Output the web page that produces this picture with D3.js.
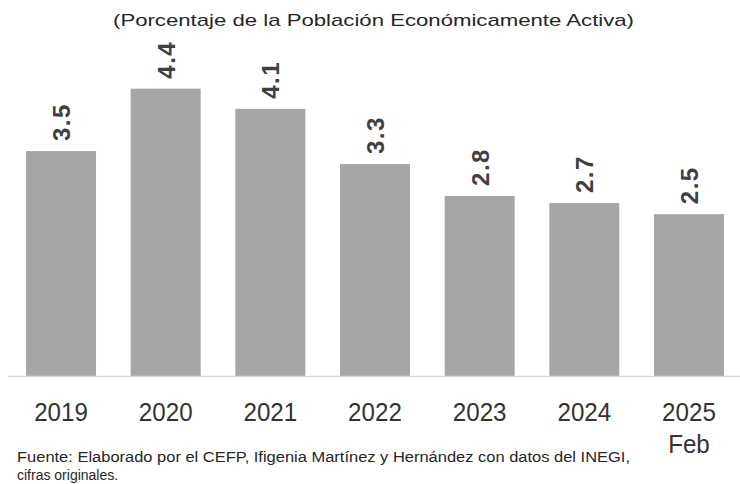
<!DOCTYPE html>
<meta charset="utf-8">
<style>
body{
    margin: 0;
    background: #fff;
}
svg text{
    font-family: "Liberation Sans", Arial, sans-serif;
}
</style>
<body>
    <div class="wrap"></div>
    <script src="https://d3js.org/d3.v7.min.js"></script>
    <script>
        // datos
        const years = ["2019", "2020", "2021", "2022", "2023", "2024", "2025"];
        const tickLabels = [["2019"], ["2020"], ["2021"], ["2022"], ["2023"], ["2024"], ["2025", "Feb"]];
        const tasa = [3.46, 4.42, 4.11, 3.26, 2.77, 2.66, 2.49];
        const titulo = "(Porcentaje de la Población Económicamente Activa)";
        const fuente = ["Fuente: Elaborado por el CEFP, Ifigenia Martínez y Hernández con datos del INEGI,",
                        "cifras originales."];

        let width = 740;
        let height = 484;
        const baseY = 376;

        const svg = d3.select(".wrap")
                    .append("svg")
                    .attr("width", width)
                    .attr("height", height);

        const x = d3.scaleBand()
                    .domain(years)
                    .range([8.7, 741.3])
                    .paddingInner(0.331)
                    .paddingOuter(0.1655);

        const y = d3.scaleLinear()
                    .domain([0, 5])
                    .range([baseY, baseY - 5 * 65]);

        // titulo
        svg.append("text")
            .attr("x", 113)
            .attr("y", 26)
            .attr("textLength", 521)
            .attr("lengthAdjust", "spacingAndGlyphs")
            .style("font-size", "17px")
            .style("fill", "#262626")
            .text(titulo);

        const data = years.map((d, i) => ({year: d, v: tasa[i]}));

        svg.append("g")
            .selectAll("rect")
            .data(data)
            .join("rect")
            .attr("x", d => x(d.year))
            .attr("y", d => y(d.v))
            .attr("width", x.bandwidth())
            .attr("height", d => y(0) - y(d.v))
            .style("fill", "#a6a6a6");

        // etiquetas de valor, giradas
        svg.append("g")
            .selectAll("text")
            .data(data)
            .join("text")
            .attr("transform", d => `translate(${x(d.year) + x.bandwidth() / 2 + 9},${y(d.v) - 10}) rotate(-90)`)
            .style("font-size", "24px")
            .style("font-weight", "bold")
            .style("letter-spacing", "1.5px")
            .style("fill", "#404040")
            .text(d => d3.format(".1f")(d.v));

        // eje x
        svg.append("line")
            .attr("x1", 8)
            .attr("x2", 740)
            .attr("y1", baseY + 0.5)
            .attr("y2", baseY + 0.5)
            .style("stroke", "#d9d9d9")
            .style("stroke-width", 1.5);

        const xAxis = svg.append("g")
            .attr("transform", `translate(0,${baseY})`)
            .call(d3.axisBottom(x).tickSize(0).tickFormat(""));
        xAxis.select(".domain").remove();

        xAxis.selectAll(".tick")
            .append("text")
            .attr("text-anchor", "middle")
            .attr("transform", "scale(0.93,1)")
            .style("font-size", "26px")
            .style("fill", "#333")
            .selectAll("tspan")
            .data((d, i) => tickLabels[i])
            .join("tspan")
            .attr("x", 0)
            .attr("y", (d, i) => 45 + i * 32)
            .text(d => d);

        // fuente
        svg.append("g")
            .selectAll("text")
            .data(fuente)
            .join("text")
            .attr("x", 17)
            .attr("y", (d, i) => 462 + i * 18)
            .attr("textLength", (d, i) => i == 0 ? 613 : null)
            .attr("lengthAdjust", "spacingAndGlyphs")
            .style("font-size", "14px")
            .style("fill", "#262626")
            .text(d => d);
    </script>
</body>
</html>
